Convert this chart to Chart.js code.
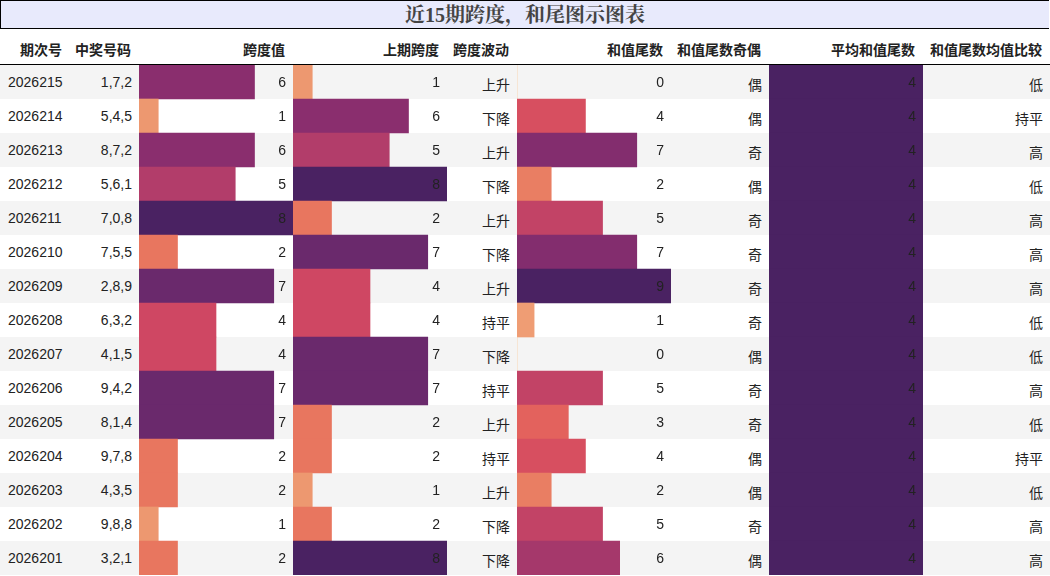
<!DOCTYPE html>
<html><head><meta charset="utf-8">
<script src="https://cdn.jsdelivr.net/npm/chart.js@4"></script>
<style>
body{margin:0;width:1050px;height:576px;overflow:hidden;background:#fff;font-family:"Liberation Sans","Noto Sans CJK SC",sans-serif;font-size:14px;color:#222}
#title{position:absolute;left:0;top:0;width:1048px;height:27px;background:#e8eafc;border:1px solid #000;border-right:none;text-align:center;font:bold 20px "Liberation Serif","Noto Serif CJK SC","Noto Sans CJK SC",serif;color:#444;line-height:28px}
.c{position:absolute;white-space:nowrap}
.row{position:absolute;left:0;width:1050px;height:34px}
canvas{position:absolute}
</style></head><body>
<div id="title">近15期跨度，和尾图示图表</div>
<div id="root"></div>
<script>
const periods=["2026215","2026214","2026213","2026212","2026211","2026210","2026209","2026208","2026207","2026206","2026205","2026204","2026203","2026202","2026201"];
const numbers=["1,7,2","5,4,5","8,7,2","5,6,1","7,0,8","7,5,5","2,8,9","6,3,2","4,1,5","9,4,2","8,1,4","9,7,8","4,3,5","9,8,8","3,2,1"];
const span=[6,1,6,5,8,2,7,4,4,7,7,2,2,1,2];
const prevSpan=[1,6,5,8,2,7,4,4,7,7,2,2,1,2,8];
const wave=["上升","下降","上升","下降","上升","下降","上升","持平","下降","持平","上升","持平","上升","下降","下降"];
const tail=[0,4,7,2,5,7,9,1,0,5,3,4,2,5,6];
const parity=["偶","偶","奇","偶","奇","奇","奇","奇","偶","奇","奇","偶","偶","奇","偶"];
const avgTail=[4,4,4,4,4,4,4,4,4,4,4,4,4,4,4];
const compare=["低","持平","高","低","高","高","高","低","低","高","低","持平","低","高","高"];
const headers=["期次号","中奖号码","跨度值","上期跨度","跨度波动","和值尾数","和值尾数奇偶","平均和值尾数","和值尾数均值比较"];

const cols=[[0,70],[70,139],[139,293],[293,447],[447,517],[517,671],[671,769],[769,923],[923,1050]];
const top0=65,rh=34;
const root=document.getElementById('root');
function add(html){root.insertAdjacentHTML('beforeend',html);}
// header
headers.forEach((h,i)=>add(`<div class="c" style="top:39px;right:${1050-cols[i][1]+8}px;font-weight:bold">${h}</div>`));
add(`<div style="position:absolute;left:0;top:64px;width:1050px;height:1px;background:#000"></div>`);
for(let r=0;r<15;r++){
  const y=top0+r*rh;
  add(`<div class="row" style="top:${y}px;background:${r%2==0?'#f4f4f4':'#fff'}"></div>`);
  const ty=y+9;
  add(`<div class="c" style="top:${ty}px;left:8px">${periods[r]}</div>`);
  const txt=[[1,numbers[r]],[4,wave[r]],[6,parity[r]],[8,compare[r]]];
  txt.forEach(([i,t])=>add(`<div class="c" style="top:${ty}px;right:${1050-cols[i][1]+7}px">${t}</div>`));
}
const stops=[[0,[252,200,150]],[0.125,[237,152,112]],[0.25,[232,118,95]],[0.375,[224,88,92]],[0.5,[207,71,99]],[0.625,[178,61,106]],[0.75,[138,46,110]],[0.875,[106,41,108]],[1,[74,34,98]]];
function col(t){for(let i=1;i<stops.length;i++){if(t<=stops[i][0]){const a=stops[i-1],b=stops[i],f=(t-a[0])/(b[0]-a[0]);const c=a[1].map((v,k)=>Math.round(v+(b[1][k]-v)*f));return `rgb(${c})`;}}return 'rgb(74,34,98)';}
const labelPlugin={id:'lbl',afterDatasetsDraw(ch){const ctx=ch.ctx;const m=ch.getDatasetMeta(0);ctx.save();ctx.font='14px "Liberation Sans",sans-serif';ctx.fillStyle='#222';ctx.textAlign='right';ctx.textBaseline='middle';
 m.data.forEach((b,i)=>ctx.fillText(String(ch.data.datasets[0].data[i]),ch.width-7,b.y+1));ctx.restore();}};
function bars(ci,data,max){
  const [x0,x1]=cols[ci];
  const cv=document.createElement('canvas');cv.style.left=x0+'px';cv.style.top=top0+'px';cv.style.width=(x1-x0)+'px';cv.style.height=(15*rh)+'px';
  const wrap=document.createElement('div');wrap.style.cssText=`position:absolute;left:${x0}px;top:${top0}px;width:${x1-x0}px;height:${15*rh}px`;
  cv.style.left='0';cv.style.top='0';wrap.appendChild(cv);root.appendChild(wrap);
  new Chart(cv,{type:'bar',data:{labels:periods,datasets:[{data:data,backgroundColor:data.map(v=>col(v/max)),barPercentage:1,categoryPercentage:1,borderWidth:0}]},
   options:{indexAxis:'y',responsive:true,maintainAspectRatio:false,animation:false,layout:{padding:0},
   plugins:{legend:{display:false},tooltip:{enabled:false}},
   scales:{x:{display:false,min:0,max:max},y:{display:false}}},plugins:[labelPlugin]});
}
bars(2,span,8);bars(3,prevSpan,8);bars(5,tail,9);bars(7,avgTail,4);
</script></body></html>
